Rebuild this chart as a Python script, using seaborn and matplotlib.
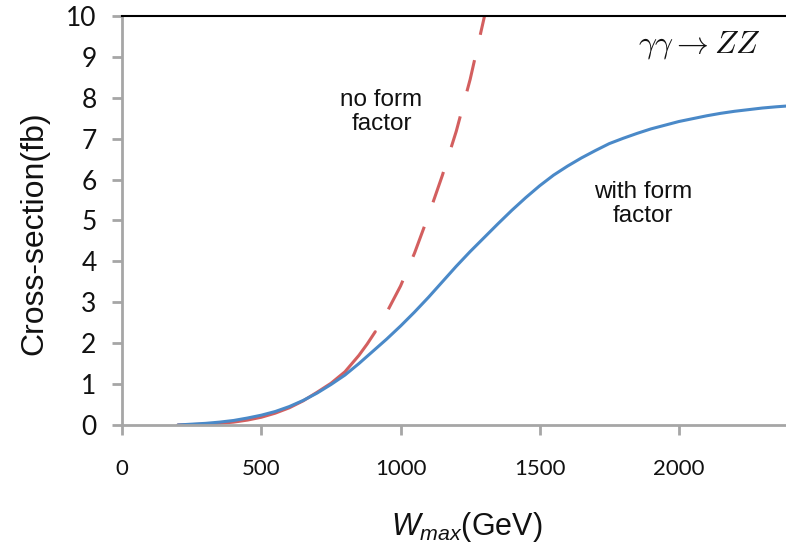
import numpy as np
import pandas as pd
import matplotlib
matplotlib.use("Agg")
import matplotlib.pyplot as plt
import seaborn as sns

# cross-section (fb) vs W_max (GeV)
w_form = [200, 250, 300, 350, 400, 450, 500, 550, 600, 650, 700, 750, 800, 850,
          900, 950, 1000, 1050, 1100, 1150, 1200, 1250, 1300, 1350, 1400, 1450,
          1500, 1550, 1600, 1650, 1700, 1750, 1800, 1850, 1900, 1950, 2000, 2050,
          2100, 2150, 2200, 2250, 2300, 2350, 2390]
xs_form = [0.00, 0.02, 0.04, 0.07, 0.11, 0.17, 0.24, 0.33, 0.45, 0.60, 0.78, 0.99,
           1.22, 1.50, 1.80, 2.10, 2.42, 2.76, 3.12, 3.50, 3.88, 4.24, 4.58, 4.92,
           5.25, 5.56, 5.85, 6.11, 6.33, 6.53, 6.71, 6.88, 7.01, 7.13, 7.24, 7.33,
           7.42, 7.49, 7.56, 7.62, 7.67, 7.71, 7.75, 7.78, 7.80]

# no form factor: solid at low W, dashed above ~910 GeV
w_noform_lo = [200, 250, 300, 350, 400, 450, 500, 550, 600, 650, 700, 750, 800,
               850, 880, 909]
xs_noform_lo = [0.00, 0.01, 0.02, 0.04, 0.07, 0.12, 0.19, 0.29, 0.42, 0.59, 0.80,
                1.02, 1.30, 1.70, 1.98, 2.28]
w_noform_hi = [909, 950, 1000, 1050, 1100, 1150, 1200, 1250, 1300, 1320]
xs_noform_hi = [2.28, 2.75, 3.40, 4.20, 5.12, 6.10, 7.18, 8.45, 9.95, 10.6]

x_ticks = [0, 500, 1000, 1500, 2000]
y_ticks = list(range(0, 11))

red = "#d35f5f"
blue = "#4a89c8"
grey = "#a6a6a6"
ink = "#111111"

sns.set_style("white")
plt.rcParams["font.family"] = ["Liberation Sans", "DejaVu Sans"]
plt.rcParams["mathtext.it"] = "Liberation Sans:italic"
plt.rcParams["mathtext.rm"] = "Liberation Sans"
plt.rcParams["text.color"] = ink
plt.rcParams["axes.labelcolor"] = ink
plt.rcParams["xtick.labelcolor"] = ink
plt.rcParams["ytick.labelcolor"] = ink

fig = plt.figure(figsize=(7.86, 5.48), dpi=100)
ax = fig.add_axes([0.1556, 0.2245, 0.8444, 0.7463])

sns.lineplot(x=w_noform_lo, y=xs_noform_lo, ax=ax, color=red, lw=2.2)
sns.lineplot(x=w_noform_hi, y=xs_noform_hi, ax=ax, color=red, lw=2.2,
             linestyle=(10.5, (10.5, 8.5)))
sns.lineplot(x=w_form, y=xs_form, ax=ax, color=blue, lw=2.2)

ax.set_xlim(0, 2385)
ax.set_ylim(0, 10)
ax.set_xticks(x_ticks)
ax.set_yticks(y_ticks)

for lab in ax.get_yticklabels():
    lab.set_fontfamily("Lato")
    lab.set_fontsize(19)
for lab in ax.get_xticklabels():
    lab.set_fontfamily("Lato")
    lab.set_fontsize(16)

ax.tick_params(axis="y", length=7.5, width=2, color=grey, pad=11, direction="out", left=True)
ax.tick_params(axis="x", length=7.5, width=2, color=grey, pad=17, direction="out", bottom=True)

for side in ["left", "bottom"]:
    ax.spines[side].set_color(grey)
    ax.spines[side].set_linewidth(2)
ax.spines["top"].set_color("black")
ax.spines["top"].set_linewidth(1.5)
ax.spines["right"].set_visible(False)

ax.set_ylabel("Cross-section(fb)", fontsize=23)
ax.yaxis.set_label_coords(-0.11, 0.469)
ax.set_xlabel(r"$\mathit{W}_{\mathit{max}}$(GeV)", fontsize=22,
              math_fontfamily="custom")
ax.xaxis.set_label_coords(0.519, -0.208)

ax.text(931, 7.65, "no form\nfactor", ha="center", va="center", fontsize=17.5,
        linespacing=1.1)
ax.text(1870, 5.4, "with form\nfactor", ha="center", va="center", fontsize=17.5,
        linespacing=1.1)
ax.text(2295, 9.3, r"$\gamma\gamma \rightarrow ZZ$", ha="right", va="center",
        fontsize=23, math_fontfamily="cm")

fig.savefig("out.png", dpi=100)
